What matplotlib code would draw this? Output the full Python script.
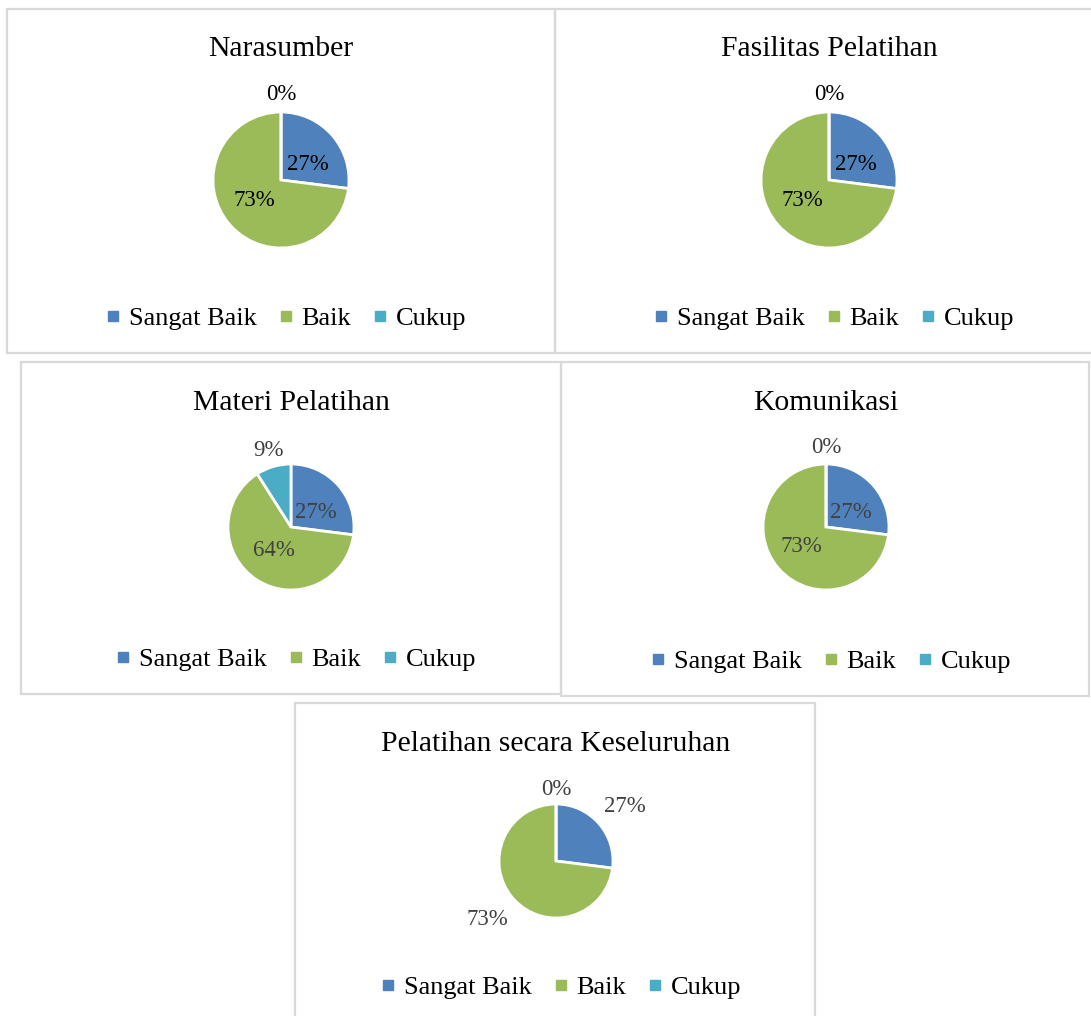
import matplotlib
matplotlib.use('Agg')
import matplotlib.pyplot as plt
from matplotlib.lines import Line2D
from matplotlib.patches import Rectangle
import numpy as np

plt.rcParams['font.family'] = ['Liberation Serif', 'DejaVu Serif']

categories = ['Sangat Baik', 'Baik', 'Cukup']
colors = ['#4F81BD', '#9BBB59', '#4BACC6']

titles = ['Narasumber', 'Fasilitas Pelatihan', 'Materi Pelatihan',
          'Komunikasi', 'Pelatihan secara Keseluruhan']
narasumber = [27, 73, 0]
fasilitas = [27, 73, 0]
materi = [27, 64, 9]
komunikasi = [27, 73, 0]
keseluruhan = [27, 73, 0]
values = [narasumber, fasilitas, materi, komunikasi, keseluruhan]

W, H = 1091, 1016
fig = plt.figure(figsize=(W / 100, H / 100), dpi=100)

# layout in pixels: box (x0, y0, x1, y1), pie centre, radius, title y, legend y
boxes = [(7, 9, 555, 353), (555, 9, 1095, 353), (21, 362, 561, 694),
         (561, 362, 1089, 696), (295, 703, 815, 1020)]
centres = [(281, 180), (829, 180), (291, 527), (826, 527), (556, 861)]
radii = [68, 68, 63, 63, 57]
title_y = [49, 49, 403, 403, 744]
legend_y = [318, 318, 659, 661, 987]
label_col = ['black', 'black', '#404040', '#404040', '#404040']

for (x0, y0, x1, y1) in boxes:
    fig.patches.append(Rectangle((x0 / W, 1 - y1 / H), (x1 - x0) / W, (y1 - y0) / H,
                                 transform=fig.transFigure, fill=False,
                                 edgecolor='#D9D9D9', linewidth=1.6))

handles = [Line2D([], [], marker='s', linestyle='none', markersize=6.5,
                  markerfacecolor=c, markeredgecolor=c) for c in colors]

for i in range(5):
    cx, cy = centres[i]
    r = radii[i]
    ax = fig.add_axes([(cx - r) / W, 1 - (cy + r) / H, 2 * r / W, 2 * r / H])
    wedges, _ = ax.pie(values[i], colors=colors, startangle=90, counterclock=False,
                       radius=1, wedgeprops=dict(edgecolor='white', linewidth=2))
    ax.set_xlim(-1, 1)
    ax.set_ylim(-1, 1)
    ax.set_aspect('equal')
    ax.axis('off')
    for w, v in zip(wedges, values[i]):
        th = np.deg2rad((w.theta1 + w.theta2) / 2)
        if i == 4:
            dx, dy = (1.3, 1.3) if v == 0 else (1.6, 1.5)
        elif v < 10:
            dx, dy = 1.3, 1.3
        else:
            dx, dy = 0.52, 0.4
        ax.text(dx * np.cos(th), dy * np.sin(th) - 0.04, '%d%%' % v, ha='center', va='center',
                fontsize=16.5, color=label_col[i], clip_on=False)
    fig.text(cx / W, 1 - title_y[i] / H, titles[i], ha='center', va='center', fontsize=21.3)
    ax.legend(handles, categories, loc='center', ncol=3, frameon=False,
              bbox_to_anchor=((cx + 6) / W, 1 - legend_y[i] / H),
              bbox_transform=fig.transFigure, fontsize=19,
              handlelength=0.4, handletextpad=0.4, columnspacing=0.9)

fig.savefig('out.png', dpi=100)
